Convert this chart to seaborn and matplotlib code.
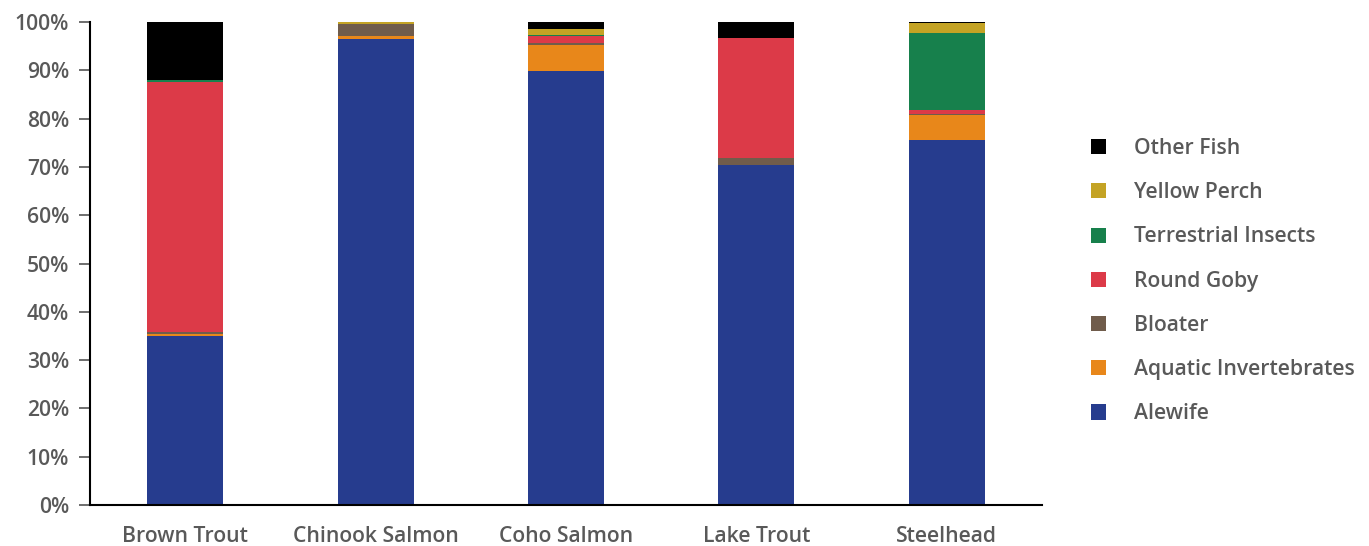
import matplotlib
matplotlib.use("Agg")
import matplotlib.pyplot as plt
import seaborn as sns
import pandas as pd
from matplotlib.patches import Patch
from matplotlib.ticker import PercentFormatter

species = ["Brown Trout", "Chinook Salmon", "Coho Salmon", "Lake Trout", "Steelhead"]
prey = ["Alewife", "Aquatic Invertebrates", "Bloater", "Round Goby",
        "Terrestrial Insects", "Yellow Perch", "Other Fish"]

alewife = [35.0, 96.5, 89.9, 70.4, 75.5]
aquatic_inv = [0.5, 0.6, 5.4, 0.0, 5.2]
bloater = [0.3, 2.5, 0.4, 1.5, 0.3]
round_goby = [51.8, 0.0, 1.45, 24.8, 0.8]
terrestrial = [0.4, 0.0, 0.2, 0.0, 16.0]
yellow_perch = [0.0, 0.3, 1.2, 0.0, 2.0]
other_fish = [12.0, 0.1, 1.45, 3.3, 0.2]

colors = ["#263C8E", "#E8871A", "#705C4B", "#DC3A48", "#17804C", "#C4A324", "#000000"]

series = [alewife, aquatic_inv, bloater, round_goby, terrestrial, yellow_perch, other_fish]
rows = []
for p, vals in zip(prey, series):
    for s, v in zip(species, vals):
        rows.append({"species": s, "prey": p, "pct": v})
df = pd.DataFrame(rows)

sns.set_style("white")
plt.rcParams["font.family"] = ["Open Sans", "DejaVu Sans"]

fig = plt.figure(figsize=(13.69, 5.46), dpi=100)
ax = fig.add_axes([90 / 1369, 41 / 546, 952 / 1369, 483 / 546])

hue_order = prey[::-1]
palette = dict(zip(prey, colors))
sns.histplot(data=df, x="species", weights="pct", hue="prey", hue_order=hue_order,
             multiple="stack", shrink=0.4, palette=palette, alpha=1, linewidth=0,
             legend=False, ax=ax)

fs = 15.2
ax.set_ylim(0, 100)
ax.set_xlim(-0.5, 4.5)
ax.set_yticks(range(0, 101, 10))
ax.yaxis.set_major_formatter(PercentFormatter(decimals=0))
ax.set_xlabel("")
ax.set_ylabel("")
for s in ["top", "right"]:
    ax.spines[s].set_visible(False)
for s in ["left", "bottom"]:
    ax.spines[s].set_color("black")
    ax.spines[s].set_linewidth(1.5)
ax.tick_params(axis="y", length=8, width=1.2, color="#555555", labelsize=fs,
               labelcolor="#595959", pad=7, left=True)
ax.tick_params(axis="x", length=0, labelsize=fs, labelcolor="#595959", pad=15)
for lab in ax.get_xticklabels() + ax.get_yticklabels():
    lab.set_fontweight("semibold")

handles = [Patch(facecolor=palette[p], edgecolor="none", label=p) for p in hue_order]
leg = fig.legend(handles=handles, loc="center left", bbox_to_anchor=(1072 / 1369, 0.485),
                 frameon=False, handlelength=0.72, handleheight=0.72,
                 labelspacing=1.1, handletextpad=1.3,
                 prop={"size": fs, "weight": "semibold"})
for t in leg.get_texts():
    t.set_color("#595959")

fig.savefig("out.png", dpi=100)
